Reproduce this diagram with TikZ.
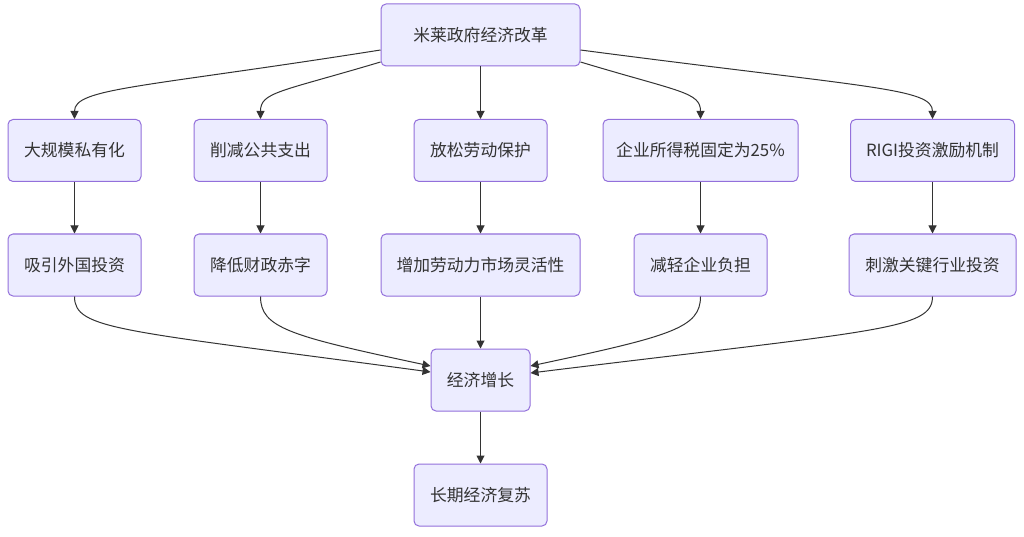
\documentclass[tikz,border=0pt]{standalone}
\usepackage{fontspec}
\setmainfont{Noto Sans CJK SC}
\usetikzlibrary{arrows.meta}
\definecolor{boxfill}{HTML}{ECECFF}
\definecolor{boxline}{HTML}{9370DB}
\definecolor{ink}{HTML}{333333}
\begin{document}
\begin{tikzpicture}[x=1pt,y=-1pt,
  box/.style={draw=boxline,fill=boxfill,line width=1pt,rounded corners=5pt,
    minimum height=62pt,inner sep=0pt,text=ink,font=\fontsize{16.8pt}{20pt}\selectfont},
  link/.style={draw=ink,line width=1pt,-{Triangle[length=8pt,width=8pt]}}]
\useasboundingbox[fill=white] (0,0) rectangle (1024,537);
% nodes
\node[box,minimum width=133pt] (a1) at (74.5,150.5) {大规模私有化};
\node[box,minimum width=199pt] (top) at (480.5,35) {米莱政府经济改革};
\node[box,minimum width=133pt] (b1) at (260.5,150.5) {削减公共支出};
\node[box,minimum width=133pt] (c1) at (480.5,150.5) {放松劳动保护};
\node[box,minimum width=195pt] (d1) at (700.5,150.5) {企业所得税固定为25\%};
\node[box,minimum width=164pt] (e1) at (932.5,150.5) {RIGI投资激励机制};
\node[box,minimum width=133pt] (a2) at (74.5,265) {吸引外国投资};
\node[box,minimum width=133pt] (b2) at (260.5,265) {降低财政赤字};
\node[box,minimum width=199pt] (c2) at (480.5,265) {增加劳动力市场灵活性};
\node[box,minimum width=133pt] (d2) at (700.5,265) {减轻企业负担};
\node[box,minimum width=167pt] (e2) at (932.5,265) {刺激关键行业投资};
\node[box,minimum width=99pt] (g) at (480.5,380) {经济增长};
\node[box,minimum width=133pt] (h) at (480.5,495) {长期经济复苏};
% top to row 2
\draw[link] (top.west |- 0,50) .. controls (140,88) and (74.5,88) .. (a1.north);
\draw[link] (top.west |- 0,62) .. controls (280,92) and (260.5,92) .. (b1.north);
\draw[link] (top.south) -- (c1.north);
\draw[link] (top.east |- 0,62) .. controls (680,92) and (700.5,92) .. (d1.north);
\draw[link] (top.east |- 0,50) .. controls (870,88) and (932.5,88) .. (e1.north);
% row 2 to row 3
\draw[link] (a1.south) -- (a2.north);
\draw[link] (b1.south) -- (b2.north);
\draw[link] (c1.south) -- (c2.north);
\draw[link] (d1.south) -- (d2.north);
\draw[link] (e1.south) -- (e2.north);
% row 3 to growth
\draw[link] (a2.south) .. controls (74.5,330) and (120,330) .. (g.west |- 0,372);
\draw[link] (b2.south) .. controls (260.5,328) and (290,336) .. (g.west |- 0,366);
\draw[link] (c2.south) -- (g.north);
\draw[link] (d2.south) .. controls (700.5,328) and (671,336) .. (g.east |- 0,366);
\draw[link] (e2.south) .. controls (932.5,330) and (880,330) .. (g.east |- 0,373);
% growth to recovery
\draw[link] (g.south) -- (h.north);
\end{tikzpicture}
\end{document}
